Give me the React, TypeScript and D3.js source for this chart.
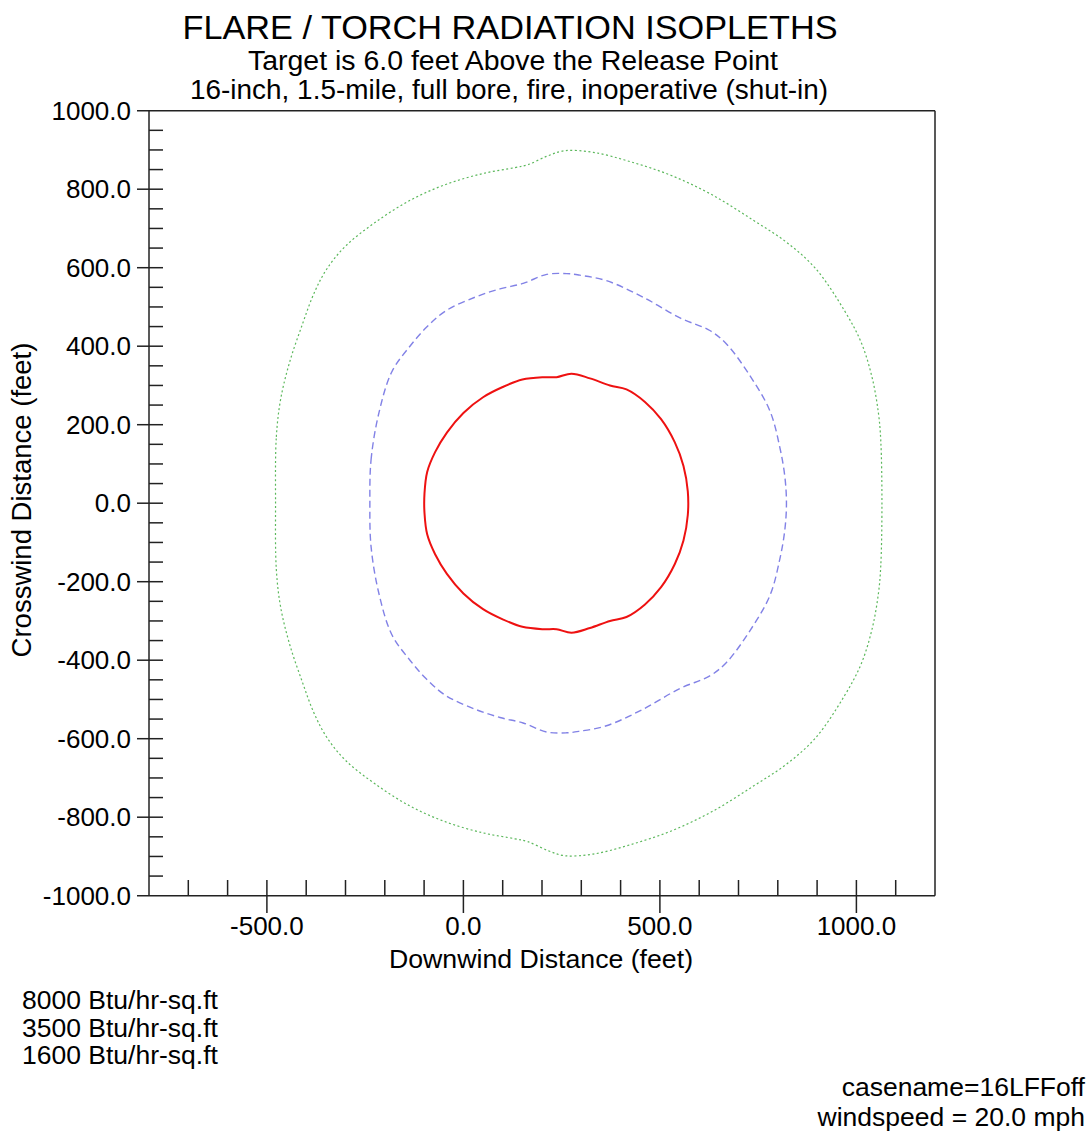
import * as d3 from "d3";

const W = 1091;
const H = 1134;

// plot frame (px)
const LEFT = 149;
const RIGHT = 935;
const TOP = 110.7;
const BOTTOM = 895.7;

const X_DOMAIN = [-800, 1200];
const Y_DOMAIN = [-1000, 1000];

const X_MAJOR = [-500, 0, 500, 1000];
const X_MINOR = [-700, -600, -400, -300, -200, -100, 100, 200, 300, 400, 600, 700, 800, 900, 1100];
const Y_MAJOR = [-1000, -800, -600, -400, -200, 0, 200, 400, 600, 800, 1000];

const LEVELS = ["8000 Btu/hr-sq.ft", "3500 Btu/hr-sq.ft", "1600 Btu/hr-sq.ft"];

// isopleths, [downwind ft, crosswind ft]
const iso8000: [number, number][] = [
  [275, 330], [322, 318], [373, 300], [415, 290], [462, 258], [503, 214], [538, 155], [560, 95], [571, 30],
  [571, -30], [560, -95], [538, -155], [503, -214], [462, -258], [415, -290], [373, -300], [322, -318], [275, -330],
  [237, -321], [203, -321], [150, -315], [100, -296], [50, -270], [0, -230], [-42, -180], [-72, -130], [-92, -80], [-99, -25],
  [-99, 25], [-92, 80], [-72, 130], [-42, 180], [0, 230], [50, 270], [100, 296], [150, 315], [203, 321], [237, 321],
];

const iso3500: [number, number][] = [
  [-238, 0], [-235, 110], [-215, 230], [-182, 335], [-136, 400], [-94, 448], [-45, 490], [30, 525], [93, 546],
  [152, 560], [212, 583], [263, 585], [296, 581], [364, 567], [457, 525], [551, 472], [627, 440], [670, 405],
  [729, 325], [780, 235], [805, 143], [818, 67], [822, 0],
  [818, -67], [805, -143], [780, -235], [729, -325], [670, -405], [627, -440], [551, -472], [457, -525], [364, -567],
  [296, -581], [263, -585], [212, -583], [152, -560], [93, -546], [30, -525], [-45, -490], [-94, -448], [-136, -400],
  [-182, -335], [-215, -230], [-235, -110],
];

const iso1600: [number, number][] = [
  [-478, 0], [-476, 169], [-465, 265], [-442, 360], [-410, 455], [-380, 535], [-348, 596], [-300, 655], [-225, 715],
  [-135, 772], [-45, 812], [50, 840], [131, 855], [163, 862], [215, 885], [257, 898], [330, 894], [425, 870],
  [529, 835], [634, 785], [739, 720], [822, 665], [896, 598], [970, 490], [1012, 410], [1040, 320], [1056, 230],
  [1062, 160], [1065, 0],
  [1062, -160], [1056, -230], [1040, -320], [1012, -410], [970, -490], [896, -598], [822, -665], [739, -720],
  [634, -785], [529, -835], [425, -870], [330, -894], [257, -898], [215, -885], [163, -862], [131, -855], [50, -840],
  [-45, -812], [-135, -772], [-225, -715], [-300, -655], [-348, -596], [-380, -535], [-410, -455], [-442, -360],
  [-465, -265], [-476, -169],
];

const FONT = "'Liberation Sans', Arial, sans-serif";
const fmt = (v: number) => v.toFixed(1);

export default function App() {
  const x = d3.scaleLinear().domain(X_DOMAIN).range([LEFT, RIGHT]);
  const y = d3.scaleLinear().domain(Y_DOMAIN).range([BOTTOM, TOP]);

  const line = d3
    .line<[number, number]>()
    .x((d) => x(d[0]))
    .y((d) => y(d[1]))
    .curve(d3.curveCatmullRomClosed.alpha(0.5));

  const yMinor = d3.range(-950, 1000, 50).filter((v) => v % 200 !== 0);

  return (
    <svg
      width={W}
      height={H}
      style={{ position: "absolute", left: 0, top: 0, background: "#fff" }}
      fontFamily={FONT}
    >
      <rect width={W} height={H} fill="#fff" />

      {/* titles */}
      <text x={510} y={39} fontSize={34} textAnchor="middle" textLength={655} lengthAdjust="spacingAndGlyphs">
        FLARE / TORCH RADIATION ISOPLETHS
      </text>
      <text x={513} y={70} fontSize={27} textAnchor="middle" textLength={530} lengthAdjust="spacingAndGlyphs">
        Target is 6.0 feet Above the Release Point
      </text>
      <text x={509} y={99} fontSize={27} textAnchor="middle" textLength={638} lengthAdjust="spacingAndGlyphs">
        16-inch, 1.5-mile, full bore, fire, inoperative (shut-in)
      </text>

      {/* contours */}
      <path d={line(iso1600) ?? ""} fill="none" stroke="#5cb85c" strokeWidth={1.2} strokeDasharray="2,2.5" />
      <path d={line(iso3500) ?? ""} fill="none" stroke="#8282e6" strokeWidth={1.4} strokeDasharray="7,4" />
      <path d={line(iso8000) ?? ""} fill="none" stroke="#ee1111" strokeWidth={2} />

      {/* frame */}
      <g stroke="#222" strokeWidth={1.5} fill="none">
        <line x1={137} x2={RIGHT} y1={TOP} y2={TOP} />
        <line x1={RIGHT} x2={RIGHT} y1={TOP} y2={BOTTOM} />
        <line x1={137} x2={RIGHT} y1={BOTTOM} y2={BOTTOM} />
        <line x1={LEFT} x2={LEFT} y1={TOP} y2={BOTTOM} />
      </g>

      {/* y ticks */}
      <g stroke="#222" strokeWidth={1.5}>
        {Y_MAJOR.filter((v) => Math.abs(v) !== 1000).map((v) => (
          <line key={v} x1={137} x2={163} y1={y(v)} y2={y(v)} />
        ))}
        {yMinor.map((v) => (
          <line key={v} x1={LEFT} x2={163} y1={y(v)} y2={y(v)} />
        ))}
      </g>
      {Y_MAJOR.map((v) => (
        <text key={v} x={131} y={y(v) + 9} fontSize={26} textAnchor="end">{fmt(v)}</text>
      ))}

      {/* x ticks */}
      <g stroke="#222" strokeWidth={1.5}>
        {X_MAJOR.map((v) => (
          <line key={v} x1={x(v)} x2={x(v)} y1={880} y2={913} />
        ))}
        {X_MINOR.map((v) => (
          <line key={v} x1={x(v)} x2={x(v)} y1={880} y2={BOTTOM} />
        ))}
      </g>
      {X_MAJOR.map((v) => (
        <text key={v} x={x(v)} y={935} fontSize={26} textAnchor="middle">{fmt(v)}</text>
      ))}

      {/* axis titles */}
      <text x={541} y={968} fontSize={26.7} textAnchor="middle">Downwind Distance (feet)</text>
      <text transform="translate(31,500) rotate(-90)" fontSize={27.5} textAnchor="middle">Crosswind Distance (feet)</text>

      {/* legend */}
      {LEVELS.map((t, i) => (
        <text key={t} x={22} y={1009 + i * 27.5} fontSize={26.5}>{t}</text>
      ))}

      <text x={1085} y={1096} fontSize={26.5} textAnchor="end">casename=16LFFoff</text>
      <text x={1085} y={1126} fontSize={26.5} textAnchor="end">windspeed = 20.0 mph</text>
    </svg>
  );
}
